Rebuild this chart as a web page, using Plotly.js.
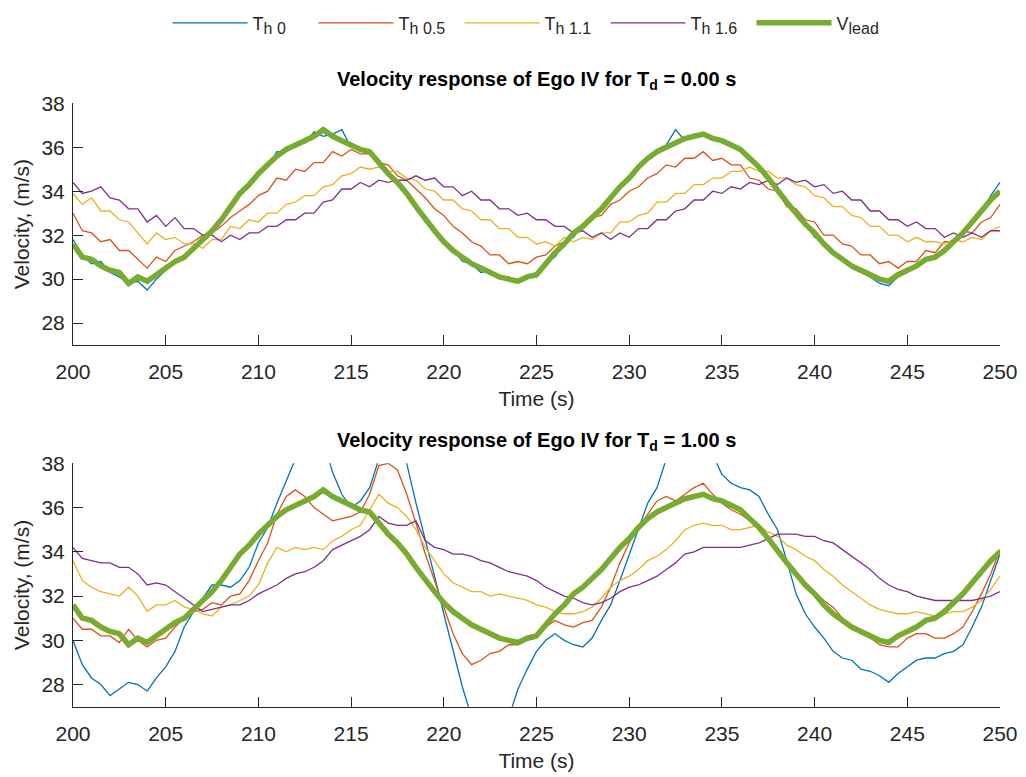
<!DOCTYPE html>
<html>
<head>
<meta charset="utf-8">
<script src="https://cdn.plot.ly/plotly-3.0.1.min.js"></script>
<style>html,body{margin:0;padding:0;background:#fff;}#chart{width:1026px;height:777px;}</style>
</head>
<body>
<div id="chart"></div>
<script>
// Sample times (s): 200 to 250 every 0.5 s
var time = [];
for (var i = 0; i <= 100; i++) { time.push(200 + i * 0.5); }

var xTicks = [200, 205, 210, 215, 220, 225, 230, 235, 240, 245, 250];
var yTicks = [28, 30, 32, 34, 36, 38];
var seriesNames = ['T<sub><span style="font-size:16px">h 0</span></sub>',
                   'T<sub><span style="font-size:16px">h 0.5</span></sub>',
                   'T<sub><span style="font-size:16px">h 1.1</span></sub>',
                   'T<sub><span style="font-size:16px">h 1.6</span></sub>',
                   'V<sub><span style="font-size:16px">lead</span></sub>'];
var panelTitles = ['<b>Velocity response of Ego IV for T<sub>d</sub> = 0.00 s</b>',
                   '<b>Velocity response of Ego IV for T<sub>d</sub> = 1.00 s</b>'];

// Lead vehicle velocity (same in both panels)
var vLead = [
 31.6,31.0,30.9,30.6,30.4,30.3,29.8,30.1,29.9,30.2,
 30.5,30.8,31.0,31.4,31.8,32.2,32.7,33.3,33.9,34.3,
 34.8,35.2,35.6,35.9,36.1,36.3,36.5,36.8,36.5,36.3,
 36.1,35.9,35.8,35.3,34.8,34.4,33.9,33.3,32.7,32.2,
 31.7,31.3,31.0,30.7,30.5,30.3,30.1,30.0,29.9,30.1,
 30.2,30.7,31.2,31.6,32.1,32.4,32.8,33.2,33.7,34.2,
 34.6,35.1,35.5,35.8,36.0,36.2,36.4,36.5,36.6,36.4,
 36.3,36.1,35.9,35.5,35.1,34.6,34.0,33.5,33.0,32.5,
 32.1,31.6,31.2,30.9,30.6,30.4,30.2,30.0,29.9,30.2,
 30.4,30.6,30.9,31.0,31.3,31.7,32.1,32.6,33.1,33.6,
 34.0];

// Panel 1: Td = 0.00 s
var th0_a = [
 31.8,31.1,30.7,30.8,30.3,30.1,29.8,29.9,29.5,30.0,
 30.4,30.8,30.9,31.5,31.7,32.3,32.6,33.4,33.8,34.4,
 34.9,35.1,35.8,35.8,36.2,36.2,36.7,36.5,36.6,36.8,
 36.0,36.0,35.7,35.4,34.7,34.5,33.8,33.2,32.6,32.3,
 31.6,31.4,30.8,30.7,30.3,30.4,30.0,30.1,29.9,30.1,
 30.1,30.8,31.0,31.7,31.9,32.5,32.7,33.3,33.6,34.3,
 34.5,35.2,35.4,35.9,36.1,36.8,36.3,36.6,36.5,36.5,
 36.2,36.2,35.8,35.6,35.0,34.7,33.9,33.6,32.9,32.6,
 31.9,31.7,31.1,31.0,30.5,30.3,30.1,29.8,29.7,30.1,
 30.3,30.7,30.8,31.1,31.2,31.8,32.0,32.7,33.0,33.8,
 34.4];
var th05_a = [
 33.0,32.2,32.1,31.7,31.8,31.3,31.3,30.9,30.5,31.0,
 30.8,31.3,31.5,31.7,32.0,32.1,32.4,32.8,33.1,33.4,
 33.8,34.0,34.6,34.5,35.0,34.9,35.3,35.3,35.8,35.6,
 35.9,35.7,35.7,35.3,35.2,34.7,34.5,34.1,33.7,33.2,
 32.9,32.4,32.1,31.7,31.5,31.1,31.1,30.7,30.8,30.7,
 31.0,31.1,31.5,31.7,32.1,32.3,32.8,32.9,33.4,33.6,
 34.0,34.2,34.6,34.8,35.2,35.1,35.5,35.5,35.8,35.4,
 35.5,35.2,35.2,34.6,34.5,34.1,34.0,33.3,33.2,32.7,
 32.6,32.0,32.0,31.6,31.5,31.1,31.1,30.7,30.8,30.5,
 30.8,30.8,31.3,31.2,31.7,31.7,32.2,32.1,32.6,32.8,
 33.4];
var th11_a = [
 33.9,33.4,33.7,33.1,33.1,32.7,32.6,32.1,31.6,32.1,
 31.8,31.9,31.6,31.6,31.4,31.8,31.8,32.4,32.3,32.7,
 32.6,33.0,33.0,33.4,33.5,33.8,33.8,34.2,34.3,34.7,
 34.8,35.1,35.0,35.1,34.9,34.9,34.6,34.5,34.1,34.0,
 33.6,33.6,33.2,33.1,32.7,32.7,32.3,32.3,31.9,31.9,
 31.6,31.7,31.5,31.9,31.7,31.9,31.8,32.1,32.1,32.6,
 32.6,32.9,33.0,33.5,33.5,33.9,33.9,34.3,34.3,34.6,
 34.6,34.9,34.9,35.1,34.9,34.9,34.6,34.6,34.3,34.2,
 33.8,33.7,33.3,33.3,32.9,32.8,32.4,32.4,32.0,32.0,
 31.7,31.9,31.7,31.7,31.6,31.8,31.7,31.9,31.8,32.2,
 32.4];
var th16_a = [
 34.4,33.9,34.0,34.2,33.7,33.6,33.2,33.2,32.6,32.9,
 32.4,32.8,32.3,32.3,32.0,32.0,31.7,32.0,31.8,32.1,
 32.1,32.4,32.4,32.7,32.7,33.0,33.0,33.5,33.6,34.1,
 34.1,34.4,34.2,34.5,34.4,34.5,34.5,34.7,34.5,34.6,
 34.2,34.2,33.8,34.0,33.6,33.6,33.2,33.2,32.9,33.0,
 32.7,32.7,32.4,32.4,32.1,32.2,31.9,32.1,31.8,32.1,
 31.9,32.3,32.3,32.7,32.7,33.1,33.2,33.6,33.6,34.0,
 33.9,34.2,34.1,34.4,34.3,34.5,34.3,34.6,34.4,34.5,
 34.2,34.3,33.9,34.0,33.6,33.6,33.1,33.1,32.7,32.7,
 32.4,32.6,32.3,32.3,31.9,32.1,31.9,32.1,31.9,32.2,
 32.2];

// Panel 2: Td = 1.00 s
var th0_b = [
 30.0,28.9,28.3,28.0,27.5,27.8,28.1,28.0,27.7,28.3,
 28.8,29.5,30.6,31.3,31.9,32.5,32.5,32.4,32.7,33.3,
 34.4,35.1,36.2,37.2,38.2,39.0,39.5,39.0,37.6,36.6,
 36.0,36.3,36.9,38.2,39.2,39.3,38.0,36.2,34.6,32.9,
 31.2,29.6,27.9,26.5,25.6,25.3,25.6,26.5,27.8,28.7,
 29.5,30.0,30.3,30.0,29.8,29.7,30.1,30.9,31.6,32.7,
 33.9,35.1,36.2,36.9,38.2,39.0,39.4,39.5,39.0,38.4,
 37.5,37.1,36.9,36.8,36.5,35.7,35.0,33.6,32.1,31.2,
 30.6,30.1,29.5,29.2,29.1,28.7,28.6,28.4,28.1,28.5,
 28.8,29.1,29.2,29.2,29.4,29.5,29.8,30.6,31.5,32.7,
 33.9];
var th05_b = [
 31.0,30.5,30.5,30.2,30.2,29.9,30.5,30.0,29.7,30.0,
 30.1,30.6,31.0,31.3,31.4,31.7,31.6,32.0,32.1,32.7,
 33.6,34.4,35.7,36.5,36.8,36.5,36.0,35.7,35.4,35.5,
 35.6,35.8,36.6,37.9,38.0,37.7,36.6,35.3,33.9,32.7,
 31.5,30.3,29.4,28.9,29.1,29.4,29.5,29.8,29.8,30.0,
 30.1,30.6,30.9,30.7,30.6,30.8,30.9,31.5,32.4,33.5,
 34.4,35.1,35.7,36.3,36.5,36.3,36.6,36.9,37.1,36.6,
 36.2,35.9,35.7,35.4,35.0,34.7,34.1,33.5,33.0,32.5,
 32.2,31.8,31.5,31.0,30.6,30.3,30.1,29.8,29.7,29.7,
 30.1,30.3,30.3,30.1,30.1,30.3,30.6,31.3,32.1,33.0,
 34.1];
var th11_b = [
 33.6,32.7,32.4,32.2,32.1,32.0,32.4,32.0,31.3,31.6,
 31.6,31.8,31.5,31.4,31.2,31.1,31.5,31.6,31.8,32.0,
 32.5,33.5,34.2,34.0,34.2,34.1,34.2,34.1,34.5,34.7,
 35.0,35.2,35.9,36.6,36.2,36.0,35.6,35.0,34.2,33.6,
 33.0,32.6,32.4,32.2,32.2,32.0,32.1,32.0,31.9,31.8,
 31.6,31.5,31.3,31.2,31.2,31.3,31.5,31.9,32.4,32.7,
 32.9,33.2,33.6,33.8,34.1,34.5,35.0,35.2,35.3,35.2,
 35.2,35.0,35.0,35.1,35.2,34.9,34.7,34.3,34.1,33.8,
 33.6,33.2,32.9,32.5,32.2,31.9,31.6,31.4,31.3,31.2,
 31.2,31.3,31.2,31.1,31.2,31.3,31.3,31.5,31.8,32.3,
 32.9];
var th16_b = [
 34.2,33.7,33.6,33.5,33.5,33.3,33.3,33.0,32.5,32.6,
 32.5,32.2,31.9,31.6,31.3,31.4,31.5,31.6,31.6,31.8,
 32.1,32.3,32.5,32.8,33.0,33.1,33.3,33.6,34.1,34.3,
 34.5,34.7,35.0,35.6,35.3,35.2,35.2,35.4,34.5,34.2,
 34.1,33.9,33.9,33.8,33.6,33.5,33.3,33.1,33.0,32.9,
 32.7,32.4,32.2,32.0,31.9,31.7,31.6,31.7,31.9,32.2,
 32.4,32.5,32.7,32.9,33.2,33.5,33.9,34.0,34.2,34.2,
 34.2,34.2,34.2,34.3,34.4,34.6,34.8,34.8,34.8,34.7,
 34.7,34.5,34.4,34.1,33.8,33.5,33.2,32.8,32.5,32.3,
 32.2,32.0,31.9,31.8,31.8,31.8,31.8,31.8,31.9,32.0,
 32.2];

var colors = ['#0072BD', '#D95319', '#EDB120', '#7E2F8E', '#77AC30'];
var widths = [1.3, 1.3, 1.3, 1.3, 5.5];

var panelA = [th0_a, th05_a, th11_a, th16_a, vLead];
var panelB = [th0_b, th05_b, th11_b, th16_b, vLead];

var traces = [];
panelA.forEach(function (ys, k) {
  traces.push({x: time, y: ys, type: 'scatter', mode: 'lines', name: seriesNames[k],
    line: {color: colors[k], width: widths[k]}, xaxis: 'x', yaxis: 'y', showlegend: true, legendgroup: 'g' + k});
});
panelB.forEach(function (ys, k) {
  traces.push({x: time, y: ys, type: 'scatter', mode: 'lines', name: seriesNames[k],
    line: {color: colors[k], width: widths[k]}, xaxis: 'x2', yaxis: 'y2', showlegend: false, legendgroup: 'g' + k});
});

var axisColor = '#262626';
var fontFamily = '"Liberation Sans", Arial, Helvetica, sans-serif';

function xAxis(anchor) {
  return {anchor: anchor, domain: [0, 1], range: [200, 250], tickvals: xTicks,
    ticks: 'inside', ticklen: 10, tickcolor: axisColor, tickwidth: 1,
    showline: true, linecolor: axisColor, linewidth: 1, showgrid: false, zeroline: false,
    tickfont: {size: 21, color: axisColor, family: fontFamily}, ticklabelstandoff: 8,
    title: {text: 'Time (s)', font: {size: 21, color: axisColor, family: fontFamily}, standoff: 9}};
}
function yAxis(anchor, dom) {
  return {anchor: anchor, domain: dom, range: [27, 38], tickvals: yTicks,
    ticks: 'inside', ticklen: 10, tickcolor: axisColor, tickwidth: 1,
    showline: true, linecolor: axisColor, linewidth: 1, showgrid: false, zeroline: false,
    tickfont: {size: 21, color: axisColor, family: fontFamily}, ticklabelstandoff: 3,
    title: {text: 'Velocity, (m/s)', font: {size: 21, color: axisColor, family: fontFamily}, standoff: 6}};
}

var layout = {
  width: 1026, height: 777,
  margin: {l: 73, r: 26, t: 0, b: 0},
  paper_bgcolor: '#ffffff', plot_bgcolor: '#ffffff',
  font: {family: fontFamily, color: axisColor},
  showlegend: true,
  legend: {orientation: 'h', xref: 'paper', yref: 'paper', x: 0.102, y: 0.994,
    xanchor: 'left', yanchor: 'top', itemwidth: 75, entrywidth: 56, entrywidthmode: 'pixels',
    font: {size: 18, color: axisColor, family: fontFamily}, bgcolor: 'rgba(0,0,0,0)'},
  xaxis: xAxis('y'),
  yaxis: yAxis('x', [0.556, 0.867]),
  xaxis2: xAxis('y2'),
  yaxis2: yAxis('x2', [0.0905, 0.4037]),
  annotations: [
    {text: panelTitles[0], xref: 'paper', yref: 'paper', x: 0.5, y: 0.897, xanchor: 'center', yanchor: 'middle',
     showarrow: false, font: {size: 20, color: '#000000', family: fontFamily}},
    {text: panelTitles[1], xref: 'paper', yref: 'paper', x: 0.5, y: 0.4324, xanchor: 'center', yanchor: 'middle',
     showarrow: false, font: {size: 20, color: '#000000', family: fontFamily}}
  ]
};

Plotly.newPlot('chart', traces, layout, {displayModeBar: false, staticPlot: true});
</script>
</body>
</html>
